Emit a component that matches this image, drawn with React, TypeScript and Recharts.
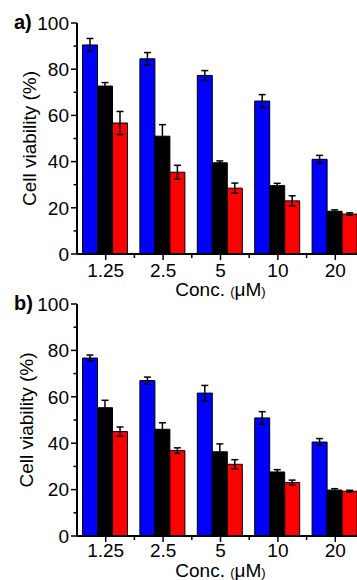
import { BarChart, Bar, XAxis, YAxis, ErrorBar } from "recharts";

const categories = ["1.25", "2.5", "5", "10", "20"];
const yTicks = [0, 10, 20, 30, 40, 50, 60, 70, 80, 90, 100];

// panel a
const blueA = [90.5, 84.5, 77.3, 66.2, 41.0];
const blueAErr = [2.8, 2.7, 2.1, 2.8, 1.7];
const blackA = [72.7, 51.0, 39.5, 29.6, 18.5];
const blackAErr = [1.5, 5.0, 0.8, 1.0, 0.6];
const redA = [56.7, 35.4, 28.5, 23.0, 17.3];
const redAErr = [5.0, 3.0, 2.2, 2.2, 0.5];

// panel b
const blueB = [76.7, 67.0, 61.6, 50.9, 40.5];
const blueBErr = [1.3, 1.5, 3.3, 2.7, 1.5];
const blackB = [55.3, 46.0, 36.3, 27.6, 19.8];
const blackBErr = [3.2, 2.8, 3.4, 1.0, 0.6];
const redB = [45.0, 36.8, 30.9, 23.0, 19.3];
const redBErr = [2.0, 1.2, 2.0, 1.1, 0.4];

const FONT = "'Liberation Sans', Arial, sans-serif";
const CHART_W = 372;
const CHART_H = 300;
const Y_W = 77;
const MARGIN_R = 8;
const BAND = (CHART_W - MARGIN_R - Y_W) / categories.length;

function buildRows(
  blue: number[], blueErr: number[],
  black: number[], blackErr: number[],
  red: number[], redErr: number[]
) {
  return categories.map((c, i) => ({
    conc: c,
    blue: blue[i], blueErr: blueErr[i],
    black: black[i], blackErr: blackErr[i],
    red: red[i], redErr: redErr[i],
  }));
}

const rowsA = buildRows(blueA, blueAErr, blackA, blackAErr, redA, redAErr);
const rowsB = buildRows(blueB, blueBErr, blackB, blackBErr, redB, redBErr);

function YTick(props: any) {
  const { x, y, payload } = props;
  const v = payload.value;
  const major = v % 20 === 0;
  return (
    <g>
      <line x1={x - (major ? 6 : 3.5)} x2={x} y1={y} y2={y} stroke="#000" strokeWidth={1.5} />
      {major && (
        <text x={x - 8} y={y} dy="0.36em" textAnchor="end" fontSize={19} fontFamily={FONT} fill="#000">
          {v}
        </text>
      )}
    </g>
  );
}

function makeXTick(labelDy: number) {
  return (props: any) => {
    const { x, y, payload } = props;
    return (
      <g>
        <line x1={x} x2={x} y1={y} y2={y + 6} stroke="#000" strokeWidth={1.5} />
        <line x1={x + BAND / 2} x2={x + BAND / 2} y1={y} y2={y + 4} stroke="#000" strokeWidth={1.5} />
        <text x={x} y={y + labelDy} textAnchor="middle" fontSize={19} fontFamily={FONT} fill="#000">
          {payload.value}
        </text>
      </g>
    );
  };
}

interface PanelProps {
  rows: any[];
  tag: string;
  top: number;
  marginTop: number;
  xAxisH: number;
  yLabelX: number;
  xLabelDy: number;
  tickDy: number;
  tagY: number;
}

function Panel({ rows, tag, top, marginTop, xAxisH, yLabelX, xLabelDy, tickDy, tagY }: PanelProps) {
  const plotH = CHART_H - marginTop - xAxisH;
  const cy = marginTop + plotH / 2;
  const plotBottom = marginTop + plotH;
  const cx = Y_W + (CHART_W - MARGIN_R - Y_W) / 2;

  const yLabel = () => (
    <g>
      <text x={14} y={tagY} fontSize={20} fontWeight="bold" fontFamily={FONT} fill="#000">
        {tag}
      </text>
      <text
        x={yLabelX}
        y={cy}
        transform={`rotate(-90 ${yLabelX} ${cy})`}
        textAnchor="middle"
        dominantBaseline="central"
        fontSize={19}
        fontFamily={FONT}
        fill="#000"
      >
        Cell viability (%)
      </text>
    </g>
  );

  const xLabel = () => (
    <text x={cx} y={plotBottom + xLabelDy} textAnchor="middle" fontSize={19} fontFamily={FONT} fill="#000">
      Conc. <tspan fontSize={13}>(</tspan>μM<tspan fontSize={13}>)</tspan>
    </text>
  );

  return (
    <div style={{ position: "absolute", left: 0, top }}>
      <BarChart
        width={CHART_W}
        height={CHART_H}
        data={rows}
        margin={{ top: marginTop, right: MARGIN_R, bottom: 0, left: 0 }}
        barCategoryGap={5.5}
        barGap={0}
      >
        <XAxis
          dataKey="conc"
          height={xAxisH}
          axisLine={{ stroke: "#000", strokeWidth: 2 }}
          tickLine={false}
          tickSize={0}
          tickMargin={0}
          interval={0}
          tick={makeXTick(tickDy)}
          label={xLabel}
        />
        <YAxis
          width={Y_W}
          domain={[0, 100]}
          ticks={yTicks}
          interval={0}
          allowDataOverflow
          axisLine={{ stroke: "#000", strokeWidth: 2 }}
          tickLine={false}
          tickSize={0}
          tickMargin={0}
          tick={YTick}
          label={yLabel}
        />
        <Bar dataKey="blue" fill="#0000ff" stroke="#000" strokeWidth={1} isAnimationActive={false}>
          <ErrorBar dataKey="blueErr" width={3.5} stroke="#000" strokeWidth={1.5} />
        </Bar>
        <Bar dataKey="black" fill="#000000" stroke="#000" strokeWidth={1} isAnimationActive={false}>
          <ErrorBar dataKey="blackErr" width={3.5} stroke="#000" strokeWidth={1.5} />
        </Bar>
        <Bar dataKey="red" fill="#ff0000" stroke="#000" strokeWidth={1} isAnimationActive={false}>
          <ErrorBar dataKey="redErr" width={3.5} stroke="#000" strokeWidth={1.5} />
        </Bar>
      </BarChart>
    </div>
  );
}

export default function App() {
  return (
    <div
      style={{
        position: "absolute",
        left: 0,
        top: 0,
        width: 357,
        height: 580,
        overflow: "hidden",
        background: "#fff",
      }}
    >
      <Panel rows={rowsA} tag="a)" top={0} marginTop={23} xAxisH={46} yLabelX={29} xLabelDy={42} tickDy={23} tagY={29} />
      <Panel rows={rowsB} tag="b)" top={280} marginTop={24} xAxisH={44} yLabelX={26} xLabelDy={41} tickDy={21} tagY={30} />
    </div>
  );
}
